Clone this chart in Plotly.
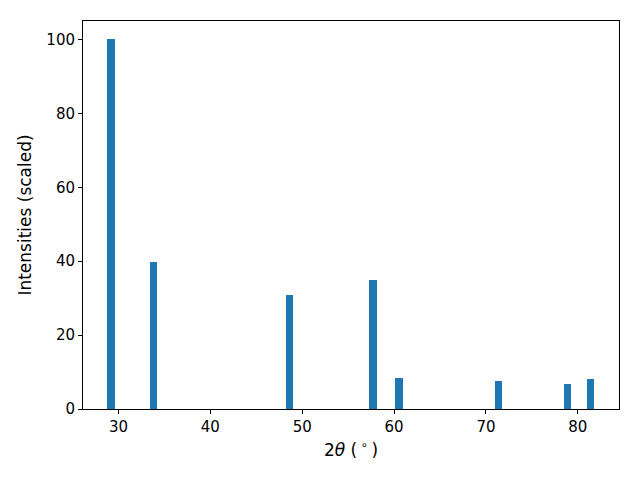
import plotly.graph_objects as go

# Peak positions (2theta, degrees) and scaled intensities
two_theta = [29.2, 33.8, 48.65, 57.7, 60.55, 71.35, 78.9, 81.4]
intensity = [100, 39.8, 30.9, 35.0, 8.4, 7.6, 6.8, 8.1]

x_ticks = [30, 40, 50, 60, 70, 80]
y_ticks = [0, 20, 40, 60, 80, 100]

fig = go.Figure()
fig.add_trace(go.Bar(
    x=two_theta,
    y=intensity,
    width=0.8,
    marker=dict(color="#1f77b4", line=dict(width=0)),
    showlegend=False,
))

axis_style = dict(
    showline=True, linecolor="black", linewidth=1, mirror=True,
    ticks="outside", ticklen=4, tickwidth=1, tickcolor="black",
    showgrid=False, zeroline=False, automargin=False,
    tickfont=dict(family="DejaVu Sans", size=15, color="black"),
)

# the page body has an 8px margin, so margins are shifted to compensate
fig.update_layout(
    width=640, height=480,
    margin=dict(l=75, r=29, t=13, b=79),
    paper_bgcolor="white", plot_bgcolor="white",
    font=dict(family="DejaVu Sans", size=14, color="black"),
    bargap=0,
    xaxis=dict(range=[26.14, 84.48], tickvals=x_ticks,
               title=dict(text="2<i>θ</i> (\u2009<sup>∘</sup>\u2009)", standoff=9,
                          font=dict(family="DejaVu Sans", size=17, color="black")),
               **axis_style),
    yaxis=dict(range=[0, 105], tickvals=y_ticks,
               title=dict(text="Intensities (scaled)", standoff=10,
                          font=dict(family="DejaVu Sans", size=17, color="black")),
               **axis_style),
)

fig.write_html("out.html")
